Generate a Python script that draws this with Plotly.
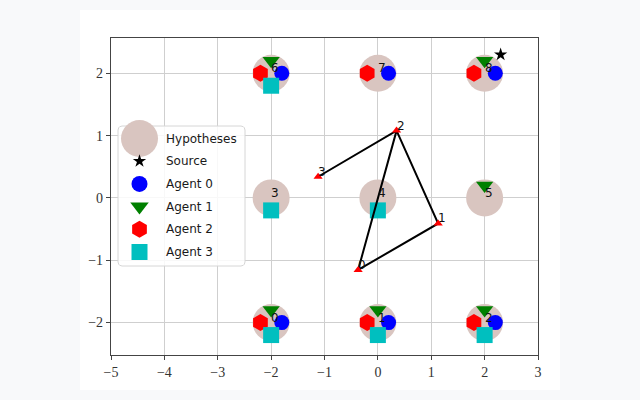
import numpy as np
import plotly.graph_objects as go

# ---------------- data ----------------
hyp_x = [-2, 0, 2, -2, 0, 2, -2, 0, 2]
hyp_y = [-2, -2, -2, 0, 0, 0, 2, 2, 2]
hyp_labels = ["0", "1", "2", "3", "4", "5", "6", "7", "8"]

source_x = [2.3]
source_y = [2.3]

agent_names = ["Agent 0", "Agent 1", "Agent 2", "Agent 3"]
agent0_hyps = [0, 1, 2, 6, 7, 8]
agent1_hyps = [0, 1, 2, 5, 6, 8]
agent2_hyps = [0, 1, 2, 6, 7, 8]
agent3_hyps = [0, 1, 2, 3, 4, 6]
agent_offsets = [(0.2, 0.0), (0.0, 0.2), (-0.2, 0.0), (0.0, -0.2)]

traj_x = [-0.37, 1.13, 0.35, -1.12]
traj_y = [-1.155, -0.41, 1.08, 0.34]
traj_labels = ["0", "1", "2", "3"]
traj_path = [3, 2, 1, 0, 2]

legend_names = ["Hypotheses", "Source"] + agent_names

# ---------------- styles ----------------
HYP_COLOR = "#d9c5c0"
agent_colors = ["#0000ff", "#008000", "#ff0000", "#00bfbf"]
agent_symbols = ["circle", "triangle-down", "hexagon", "square"]
agent_sizes = [15, 15, 17, 16]

L, R, T, B = 111, 538, 38, 355  # plot area in pixels
W, H = 640, 400

fig = go.Figure()

# hypotheses
fig.add_trace(go.Scatter(x=hyp_x, y=hyp_y, mode="markers",
                         marker=dict(size=37, color=HYP_COLOR, line=dict(width=0)),
                         showlegend=False, hoverinfo="skip"))
# source
fig.add_trace(go.Scatter(x=source_x, y=source_y, mode="markers",
                         marker=dict(size=10, color="black", symbol="star", line=dict(width=0)),
                         showlegend=False))

agent_hyps = [agent0_hyps, agent1_hyps, agent2_hyps, agent3_hyps]
for k in range(4):
    dx, dy = agent_offsets[k]
    xs = [hyp_x[i] + dx for i in agent_hyps[k]]
    ys = [hyp_y[i] + dy for i in agent_hyps[k]]
    fig.add_trace(go.Scatter(x=xs, y=ys, mode="markers",
                             marker=dict(size=agent_sizes[k], color=agent_colors[k],
                                         symbol=agent_symbols[k],
                                         line=dict(width=0)),
                             showlegend=False))

# trajectory
fig.add_trace(go.Scatter(x=[traj_x[i] for i in traj_path], y=[traj_y[i] for i in traj_path],
                         mode="lines", line=dict(color="black", width=2),
                         showlegend=False))
fig.add_trace(go.Scatter(x=traj_x, y=traj_y, mode="markers",
                         marker=dict(size=8, color="red", symbol="triangle-up", line=dict(width=0)),
                         showlegend=False))

annotations = []
for xv, yv, t in zip(hyp_x, hyp_y, hyp_labels):
    annotations.append(dict(x=xv, y=yv, text=t, showarrow=False, xanchor="left",
                            yanchor="bottom", xshift=-2, yshift=-4,
                            font=dict(family="DejaVu Sans", size=12, color="#111")))
for xv, yv, t in zip(traj_x, traj_y, traj_labels):
    annotations.append(dict(x=xv, y=yv, text=t, showarrow=False, xanchor="left",
                            yanchor="bottom", xshift=-2, yshift=-4,
                            font=dict(family="DejaVu Sans", size=12, color="#111")))

# ---------------- custom legend (pixel axes) ----------------
bx0, by0, bx1, by1, rad = 118, 126, 245, 266, 4
ang = np.linspace(0, np.pi / 2, 6)
px, py = [], []
for cx, cy, a0 in [(bx1 - rad, by0 + rad, -np.pi / 2), (bx1 - rad, by1 - rad, 0),
                   (bx0 + rad, by1 - rad, np.pi / 2), (bx0 + rad, by0 + rad, np.pi)]:
    px += list(cx + rad * np.cos(a0 + ang))
    py += list(cy + rad * np.sin(a0 + ang))
px.append(px[0]); py.append(py[0])
fig.add_trace(go.Scatter(x=px, y=py, xaxis="x2", yaxis="y2", mode="lines", fill="toself",
                         fillcolor="rgba(255,255,255,0.85)", line=dict(color="#d6d6d6", width=1),
                         showlegend=False, hoverinfo="skip"))

row_y = [138.5 + 22.7 * i for i in range(6)]
mk_x = 139.5
leg_symbols = ["circle", "star"] + agent_symbols
leg_colors = [HYP_COLOR, "black"] + agent_colors
leg_sizes = [37, 10] + [16, 16, 17, 16]
for i in range(6):
    fig.add_trace(go.Scatter(x=[mk_x], y=[row_y[i]], xaxis="x2", yaxis="y2", mode="markers",
                             marker=dict(size=leg_sizes[i], color=leg_colors[i],
                                         symbol=leg_symbols[i], line=dict(width=0)),
                             showlegend=False))
    annotations.append(dict(x=164, y=row_y[i], xref="x2", yref="y2", text=legend_names[i],
                            showarrow=False, xanchor="left", yanchor="middle",
                            font=dict(family="DejaVu Sans", size=12, color="#1a1a1a")))

axis_common = dict(showgrid=True, gridcolor="#cfcfcf", gridwidth=1, zeroline=False,
                   showline=True, mirror=True, linecolor="#444", linewidth=1.3,
                   ticks="outside", ticklen=4, tickcolor="#444", tickwidth=1,
                   dtick=1, tickfont=dict(family="Liberation Serif", size=14, color="#333"))

fig.update_layout(
    width=W, height=H,
    margin=dict(l=L, r=W - R, t=T, b=H - B, pad=0),
    paper_bgcolor="#f8f9fa", plot_bgcolor="white",
    xaxis=dict(range=[-5, 3], **axis_common),
    yaxis=dict(range=[-2.52, 2.566], **axis_common),
    xaxis2=dict(overlaying="x", anchor="y2", range=[L, R], visible=False, fixedrange=True),
    yaxis2=dict(overlaying="y", anchor="x2", range=[B, T], visible=False, fixedrange=True),
    annotations=annotations,
    shapes=[dict(type="rect", xref="paper", yref="paper",
                 x0=(80 - L) / (R - L), x1=(560 - L) / (R - L),
                 y0=(B - 390) / (B - T), y1=(B - 10) / (B - T),
                 fillcolor="white", line=dict(width=0), layer="below")],
    showlegend=False,
)

fig.write_html("out.html")
